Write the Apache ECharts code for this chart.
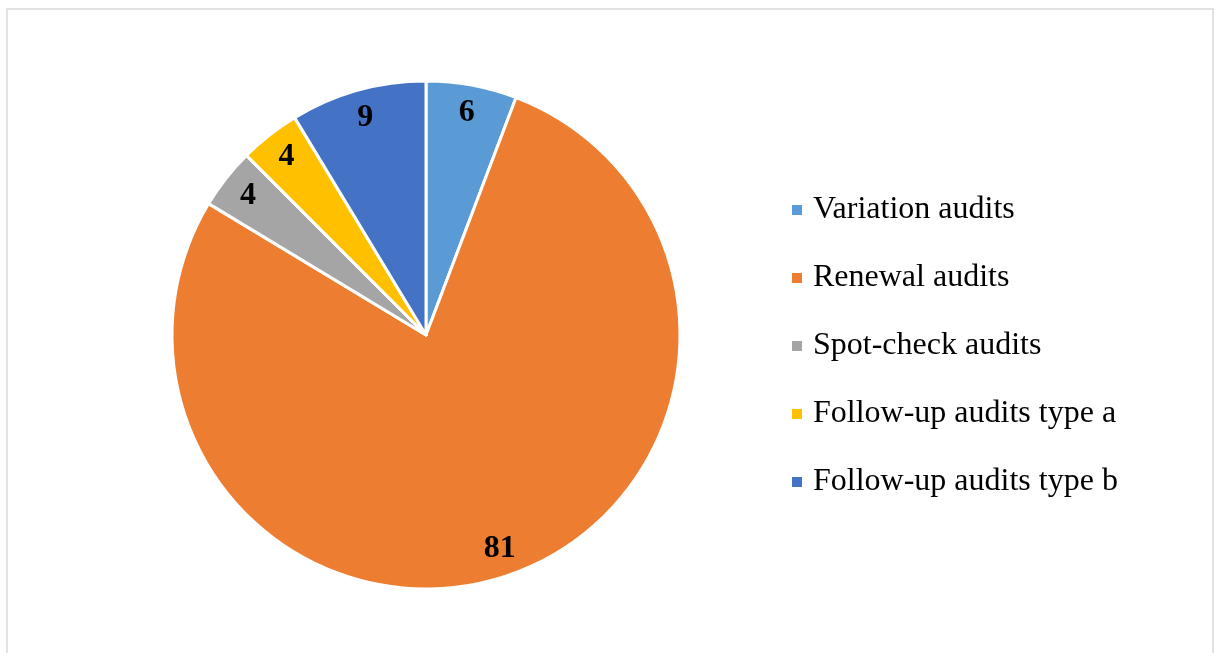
<!DOCTYPE html>
<html>
<head>
<meta charset="utf-8">
<script src="https://cdn.jsdelivr.net/npm/echarts@6/dist/echarts.min.js"></script>
<style>
  html, body { margin: 0; padding: 0; background: #fff; }
  #chart { width: 1217px; height: 653px; }
</style>
</head>
<body>
<div id="chart"></div>
<script>
// Audit types and their counts
const categories = ['Variation audits', 'Renewal audits', 'Spot-check audits', 'Follow-up audits type a', 'Follow-up audits type b'];
const counts = [6, 81, 4, 4, 9];
const colors = ['#5B9BD5', '#ED7D31', '#A5A5A5', '#FFC000', '#4472C4'];

const pieData = categories.map((name, i) => ({ name, value: counts[i] }));
const serif = '"Liberation Serif", "Times New Roman", serif';

const chart = echarts.init(document.getElementById('chart'), null, { renderer: 'canvas' });
chart.setOption({
  animation: false,
  color: colors,
  graphic: [{
    type: 'rect',
    shape: { x: 7, y: 9, width: 1206, height: 660 },
    style: { fill: 'none', stroke: '#d9d9d9', lineWidth: 1.5 },
    silent: true
  }],
  legend: {
    orient: 'vertical',
    left: 790,
    top: 193,
    padding: 0,
    icon: 'rect',
    itemWidth: 12,
    itemHeight: 12,
    itemGap: 34,
    textStyle: { fontFamily: serif, fontSize: 32, color: '#000', lineHeight: 34, padding: [0, 0, 0, 5] },
    data: categories
  },
  series: [
    {
      type: 'pie',
      center: [426, 335],
      radius: [0, 254],
      startAngle: 90,
      clockwise: true,
      label: { show: false },
      labelLine: { show: false },
      itemStyle: { borderColor: '#fff', borderWidth: 3 },
      data: pieData
    },
    {
      // transparent ring used only to place value labels near the rim
      type: 'pie',
      silent: true,
      center: [426, 335],
      radius: [192, 254],
      startAngle: 90,
      clockwise: true,
      itemStyle: { color: 'transparent' },
      label: {
        show: true,
        position: 'inside',
        formatter: '{c}',
        fontFamily: serif,
        fontWeight: 'bold',
        fontSize: 32,
        color: '#000'
      },
      labelLine: { show: false },
      data: pieData
    }
  ]
});
</script>
</body>
</html>
